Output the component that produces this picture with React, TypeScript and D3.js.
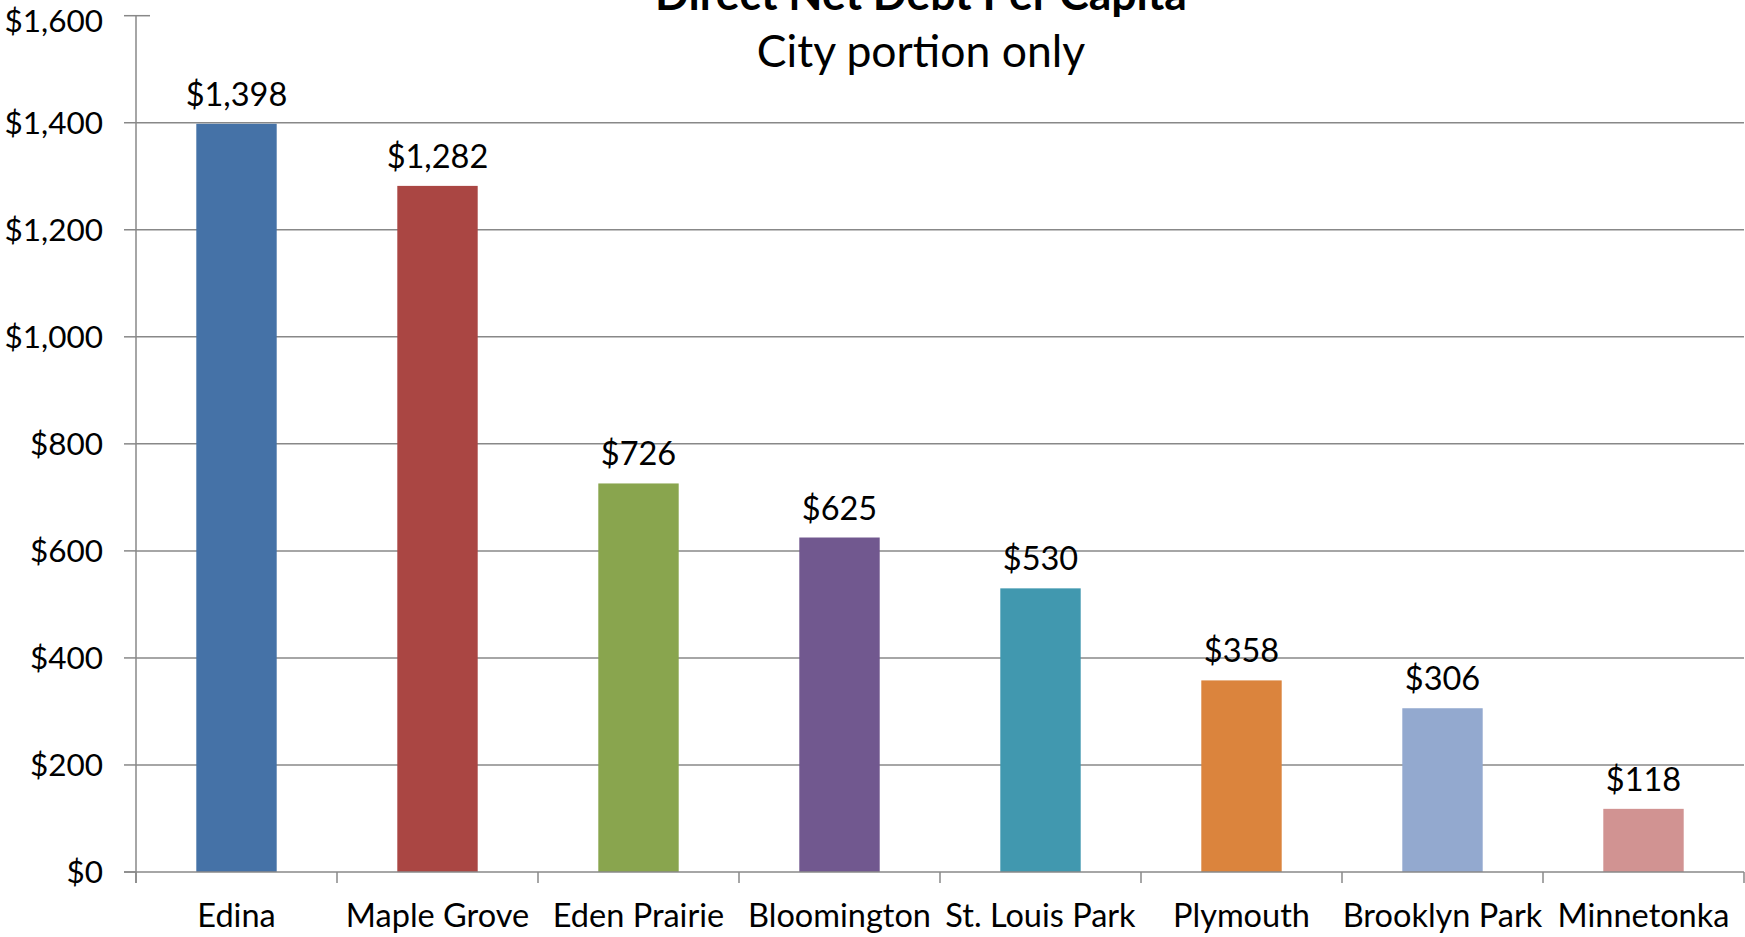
import * as d3 from 'd3';
import * as React from 'react';

const cities = [
  'Edina',
  'Maple Grove',
  'Eden Prairie',
  'Bloomington',
  'St. Louis Park',
  'Plymouth',
  'Brooklyn Park',
  'Minnetonka',
];
const debtPerCapita = [1398, 1282, 726, 625, 530, 358, 306, 118];
const barColors = ['#4572A7', '#AA4643', '#89A54E', '#71588F', '#4198AF', '#DB843D', '#93A9CF', '#D19392'];
const yTicks = [0, 200, 400, 600, 800, 1000, 1200, 1400, 1600];

const title = 'Direct Net Debt Per Capita';
const subtitle = 'City portion only';

const WIDTH = 1745;
const HEIGHT = 937;
const FONT = 'Lato, "Open Sans", sans-serif';
const LINE = '#888888';

const money = d3.format('$,.0f');

export default function App() {
  const left = 136;
  const right = 1744;
  const top = 15.7;
  const bottom = 872;

  const x = d3.scaleBand<string>().domain(cities).range([left, right]).padding(0);
  const y = d3.scaleLinear().domain([0, 1600]).range([bottom, top]);
  const barW = x.bandwidth() * 0.4;
  const boundaries = cities.map((c) => x(c) as number).concat([right]);

  return (
    <svg
      width={WIDTH}
      height={HEIGHT}
      viewBox={`0 0 ${WIDTH} ${HEIGHT}`}
      style={{ position: 'absolute', left: 0, top: 0, background: '#fff', display: 'block' }}
      fontFamily={FONT}
    >
      {/* gridlines */}
      {yTicks
        .filter((t) => t > 0 && t < 1600)
        .map((t) => (
          <line key={'g' + t} x1={left} x2={right} y1={y(t)} y2={y(t)} stroke={LINE} strokeWidth={1.5} />
        ))}

      {/* bars */}
      {cities.map((c, i) => {
        const cx = (x(c) as number) + x.bandwidth() / 2;
        return (
          <g key={c}>
            <rect
              x={cx - barW / 2}
              y={y(debtPerCapita[i])}
              width={barW}
              height={bottom - y(debtPerCapita[i])}
              fill={barColors[i]}
            />
            <text x={cx} y={y(debtPerCapita[i]) - 18} textAnchor="middle" fontSize={32.5} fill="#000">
              {money(debtPerCapita[i])}
            </text>
          </g>
        );
      })}

      {/* y axis */}
      <line x1={left} x2={left} y1={top} y2={bottom + 11} stroke={LINE} strokeWidth={1.5} />
      {yTicks.map((t) => (
        <g key={'y' + t}>
          <line x1={left - 12} x2={t === 1600 ? left + 14 : left} y1={y(t)} y2={y(t)} stroke={LINE} strokeWidth={1.5} />
          {/* the top label sits a little lower so it stays inside the picture */}
          <text
            x={left - 33}
            y={t === 1600 ? y(t) + 5 : y(t)}
            dy="0.35em"
            textAnchor="end"
            fontSize={31.5}
            fill="#000"
          >
            {money(t)}
          </text>
        </g>
      ))}

      {/* x axis */}
      <line x1={left - 12} x2={right} y1={bottom} y2={bottom} stroke={LINE} strokeWidth={1.5} />
      {boundaries.map((bx, i) => (
        <line key={'xt' + i} x1={bx} x2={bx} y1={bottom} y2={bottom + 11} stroke={LINE} strokeWidth={1.5} />
      ))}
      {cities.map((c) => (
        <text
          key={'xl' + c}
          x={(x(c) as number) + x.bandwidth() / 2}
          y={927}
          textAnchor="middle"
          fontSize={32.5}
          fill="#000"
        >
          {c}
        </text>
      ))}

      {/* titles */}
      <text x={921} y={10} textAnchor="middle" fontSize={44.5} fontWeight="bold" fill="#000">
        {title}
      </text>
      <text x={921} y={67} textAnchor="middle" fontSize={44.5} fill="#000">
        {subtitle}
      </text>
    </svg>
  );
}
